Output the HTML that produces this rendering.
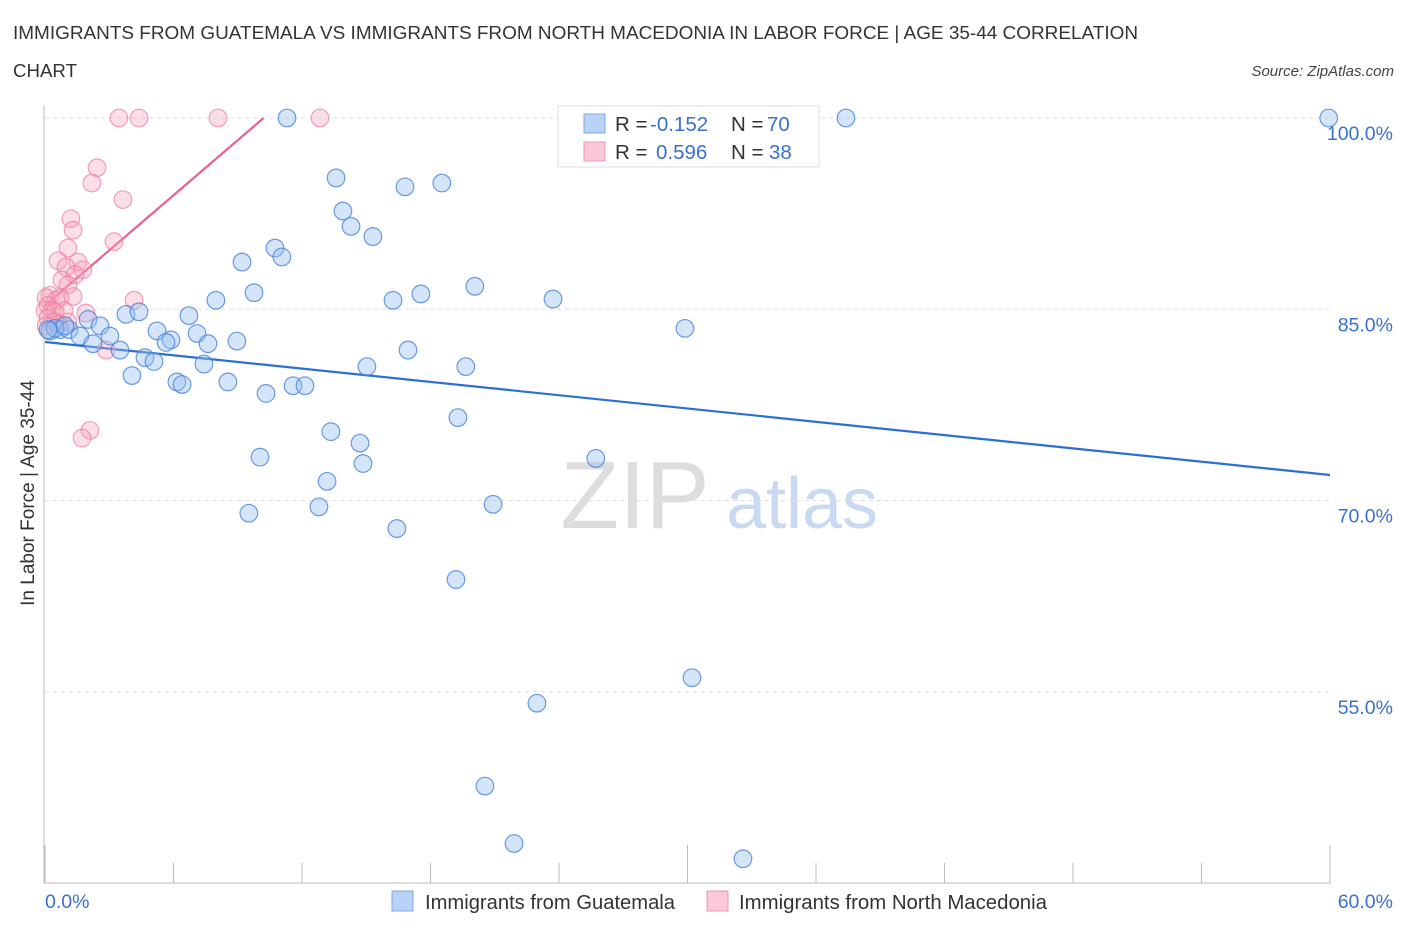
<!DOCTYPE html>
<html><head><meta charset="utf-8"><style>
body{margin:0;background:#fff;font-family:"Liberation Sans",sans-serif;}
svg text{font-family:"Liberation Sans",sans-serif;}
</style></head><body>
<svg id="chart" width="1406" height="930" viewBox="0 0 1406 930" xmlns="http://www.w3.org/2000/svg">
<text x="13" y="39" font-size="18" fill="#333" textLength="1125" lengthAdjust="spacingAndGlyphs">IMMIGRANTS FROM GUATEMALA VS IMMIGRANTS FROM NORTH MACEDONIA IN LABOR FORCE | AGE 35-44 CORRELATION</text>
<text x="13" y="77" font-size="18" fill="#333" textLength="64" lengthAdjust="spacingAndGlyphs">CHART</text>
<text x="1394" y="76" font-size="15" font-style="italic" fill="#444" text-anchor="end">Source: ZipAtlas.com</text>
<g>
<text x="635" y="528" font-size="96" fill="#ddd" text-anchor="middle" font-family="Liberation Serif, serif">ZIP</text>
<text x="802" y="528" font-size="72" fill="#c9d9f2" text-anchor="middle">atlas</text>
</g>
<g id="grid"></g>
<g id="axes"></g>
<g id="lines"></g>
<g id="points"></g>
<g>
<rect x="558" y="106" width="261" height="61" fill="#fff" stroke="#ddd"/>
<rect x="584" y="114" width="21" height="19" fill="#b8d3f5" stroke="#7ea9e6"/>
<rect x="584" y="142" width="21" height="19" fill="#fbc8d7" stroke="#ee97b0"/>
<text x="615" y="131" font-size="20.5" fill="#333">R = </text><text x="650" y="131" font-size="20.5" fill="#3a70d0">-0.152</text>
<text x="731" y="131" font-size="20.5" fill="#333">N = </text><text x="767" y="131" font-size="20.5" fill="#3a70d0">70</text>
<text x="615" y="159" font-size="20.5" fill="#333">R = </text><text x="656" y="159" font-size="20.5" fill="#3a70d0">0.596</text>
<text x="731" y="159" font-size="20.5" fill="#333">N = </text><text x="769" y="159" font-size="20.5" fill="#3a70d0">38</text>
</g>
<g>
<rect x="392" y="891" width="21" height="20" fill="#b8d3f5" stroke="#7ea9e6"/>
<text x="425" y="909" font-size="20" fill="#333" textLength="250" lengthAdjust="spacingAndGlyphs">Immigrants from Guatemala</text>
<rect x="707" y="891" width="21" height="20" fill="#fbc8d7" stroke="#ee97b0"/>
<text x="739" y="909" font-size="20" fill="#333" textLength="308" lengthAdjust="spacingAndGlyphs">Immigrants from North Macedonia</text>
</g>
</svg>
<script>
const yTicks=[100,85,70,55];
const yTickLabels=["100.0%","85.0%","70.0%","55.0%"];
const xEndLabels=["0.0%","60.0%"];
const blueX=[11.30,37.4,59.94,13.59,16.81,18.53,13.91,14.29,15.31,10.74,11.06,9.20,20.07,17.55,16.25,7.98,9.76,23.72,29.88,3.78,4.39,6.72,2.01,2.57,0.70,1.12,0.23,1.63,3.03,5.23,5.88,7.10,5.65,2.24,3.50,7.61,8.96,16.95,4.67,5.09,7.42,15.03,19.65,4.06,8.54,6.16,6.40,11.58,12.14,10.32,19.28,13.35,14.71,10.04,14.85,25.72,13.17,20.92,9.52,12.79,16.43,19.19,30.21,22.97,20.54,21.90,32.59,0.47,0.93,0.14];
const blueY=[100,100,100,95.3,94.6,94.9,92.7,91.5,90.7,89.8,89.1,88.7,86.8,86.2,85.7,85.7,86.3,85.8,83.5,84.6,84.8,84.5,84.2,83.7,83.4,83.4,83.3,82.9,82.9,83.3,82.6,83.1,82.4,82.3,81.8,82.3,82.5,81.8,81.2,80.9,80.7,80.5,80.5,79.8,79.3,79.3,79.1,79.0,79.0,78.4,76.5,75.4,74.5,73.4,72.9,73.3,71.5,69.7,69.0,69.5,67.8,63.8,56.1,54.1,47.6,43.1,41.9,83.5,83.7,83.4];
const pinkX=[3.45,4.39,8.08,12.84,2.43,2.19,3.64,1.21,1.31,3.22,1.07,0.61,1.54,0.98,1.77,1.40,0.79,1.07,0.23,1.31,0.51,0.05,0.70,0.14,0.33,0.89,0,0.47,1.91,4.16,0.14,0.47,1.07,0.05,0.61,2.85,2.10,1.73];
const pinkY=[100,100,100,100,96.1,94.9,93.6,92.1,91.2,90.3,89.8,88.8,88.7,88.3,88.1,87.7,87.3,86.9,86.1,86.0,85.7,85.9,85.9,85.3,84.9,84.9,84.9,84.8,84.7,85.7,84.3,84.0,84.0,83.7,83.8,81.8,75.5,74.9];
const blueTrend=[82.43,72.0];   // y at x=0 and x=60
const pinkTrend=[85.3,1.44];    // intercept, slope per %

const NS="http://www.w3.org/2000/svg";
const X0=45,X1=1330,YTOP=118,PXPER=12.75;
function sx(v){return X0+(X1-X0)*v/60;}
function sy(v){return YTOP+(100-v)*PXPER;}
function mk(tag,attrs,parent){const e=document.createElementNS(NS,tag);for(const k in attrs)e.setAttribute(k,attrs[k]);document.getElementById(parent).appendChild(e);return e;}

yTicks.forEach((t,i)=>{
  const l=mk('line',{x1:X0,x2:X1,y1:sy(t),y2:sy(t),stroke:'#ddd','stroke-dasharray':'4,4'},'grid');
  
  
  const tx=mk('text',{x:1393,y:sy(t)+22,'font-size':19.5,fill:'#3a70d0','text-anchor':'end'},'axes');
  tx.textContent=yTickLabels[i];
  
  
});
const ax=mk('line',{x1:44,x2:44,y1:105,y2:883,stroke:'#bbb'},'axes');


const bx=mk('line',{x1:44,x2:1331,y1:883,y2:883,stroke:'#bbb'},'axes');


for(let i=0;i<=10;i++){
  const v=i*6;const top=(i==0||i==5||i==10)?845:863;
  const t=mk('line',{x1:sx(v),x2:sx(v),y1:top,y2:883,stroke:'#bbb'},'axes');
  
  
}
const xl0=mk('text',{x:45,y:908,'font-size':19.5,fill:'#3a70d0'},'axes');xl0.textContent=xEndLabels[0];


const xl1=mk('text',{x:1393,y:908,'font-size':19.5,fill:'#3a70d0','text-anchor':'end'},'axes');xl1.textContent=xEndLabels[1];


const yt=mk('text',{x:0,y:0,'font-size':19,fill:'#333','text-anchor':'middle',transform:'translate(34,493) rotate(-90)'},'axes');
yt.textContent='In Labor Force | Age 35-44';



const bl=mk('line',{x1:sx(0),y1:sy(blueTrend[0]),x2:sx(60),y2:sy(blueTrend[1]),stroke:'#2a6fd6','stroke-width':2.2},'lines');


const pxEnd=(100-pinkTrend[0])/pinkTrend[1];
const pl=mk('line',{x1:sx(0),y1:sy(pinkTrend[0]),x2:sx(pxEnd),y2:sy(100),stroke:'#e8628e','stroke-width':2.2},'lines');



pinkX.forEach((x,i)=>{
  const c=mk('circle',{cx:sx(x),cy:sy(pinkY[i]),r:8.8,fill:'rgba(246,160,186,0.35)',stroke:'rgba(236,130,160,0.75)','stroke-width':1.2},'points');
  
  
});
blueX.forEach((x,i)=>{
  const c=mk('circle',{cx:sx(x),cy:sy(blueY[i]),r:8.8,fill:'rgba(150,190,240,0.4)',stroke:'rgba(70,130,220,0.8)','stroke-width':1.2},'points');
  
  
});
</script>
</body></html>
